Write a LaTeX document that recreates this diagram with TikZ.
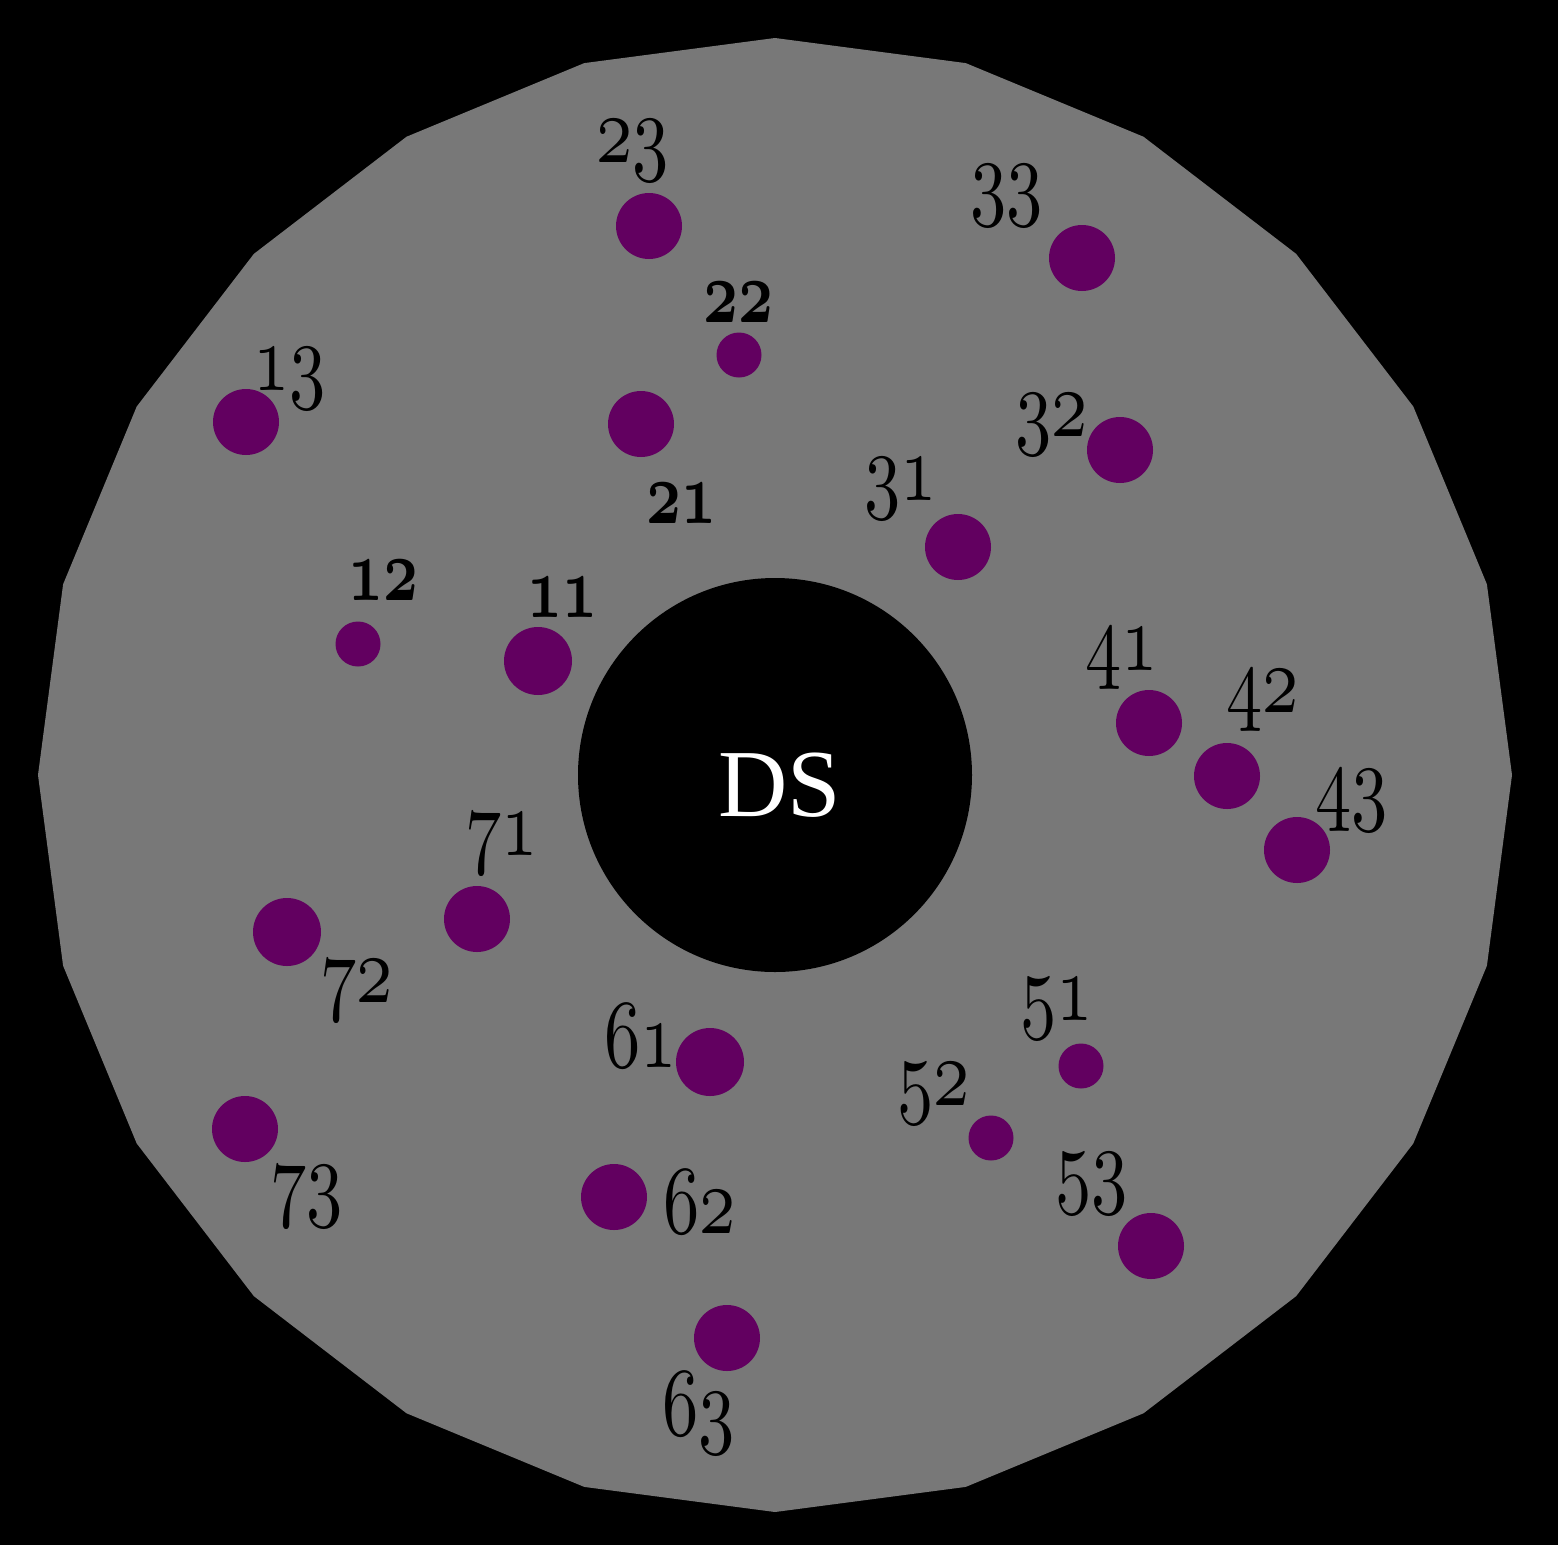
\documentclass[tikz,border=0pt]{standalone}
\usepackage{fontspec}
\newfontfamily\dsfont{Liberation Serif}
\DeclareFontFamily{OML}{osfnum}{\skewchar\font'177}
\DeclareFontShape{OML}{osfnum}{m}{it}{<->cmmi10}{}
\DeclareFontShape{OML}{osfnum}{b}{it}{<->cmmib10}{}
\definecolor{disk}{RGB}{120,120,120}
\definecolor{dot}{RGB}{98,0,96}
\newcommand{\lab}[1]{\scalebox{0.93}[1.25]{\usefont{OML}{osfnum}{m}{it}#1}}
\newcommand{\blab}[1]{\scalebox{0.95}[1.4]{\usefont{OML}{osfnum}{b}{it}#1}}
\tikzset{
  bigdot/.style={circle,fill=dot,minimum size=66pt,inner sep=0pt},
  smalldot/.style={circle,fill=dot,minimum size=45pt,inner sep=0pt},
  biglab/.style={anchor=base west,inner sep=0pt,font=\fontsize{78}{78}\selectfont},
  smalllab/.style={anchor=base west,inner sep=0pt,font=\fontsize{64}{64}\selectfont},
}
\begin{document}
\begin{tikzpicture}[x=1pt,y=-1pt]
\fill[black] (0,0) rectangle (1558,1545);
\useasboundingbox (0,0) rectangle (1558,1545);
\fill[disk] (775,775) +(90:737) \foreach \a in {75,60,...,-255} {-- +(\a:737)} -- cycle;
\node[circle,fill=black,minimum size=394pt,inner sep=0pt] (ds) at (775,775) {};
\node[text=white,font=\dsfont\fontsize{96}{96}\selectfont,inner sep=0pt] (dslab) at (780,785) {DS};
% dots
\node[bigdot] (d23) at (649,226) {};
\node[bigdot] (d33) at (1082,258) {};
\node[smalldot] (d22) at (739,355) {};
\node[bigdot] (d13) at (246,422) {};
\node[bigdot] (d21) at (641,424) {};
\node[bigdot] (d32) at (1120,450) {};
\node[bigdot] (d31) at (958,547) {};
\node[smalldot] (d12) at (358,644) {};
\node[bigdot,minimum size=68pt] (d11) at (538,661) {};
\node[bigdot] (d41) at (1149,723) {};
\node[bigdot] (d42) at (1227,776) {};
\node[bigdot] (d43) at (1297,850) {};
\node[bigdot] (d71) at (477,919) {};
\node[bigdot,minimum size=68pt] (d72) at (287,932) {};
\node[bigdot,minimum size=68pt] (d61) at (710,1062) {};
\node[smalldot] (d51) at (1081,1066) {};
\node[smalldot] (d52) at (991,1138) {};
\node[bigdot] (d73) at (245,1129) {};
\node[bigdot] (d62) at (614,1197) {};
\node[bigdot] (d53) at (1151,1246) {};
\node[bigdot] (d63) at (727,1338) {};
% labels
\node[biglab] (l23) at (596,162) {\lab{23}};
\node[biglab] (l33) at (970,207) {\lab{33}};
\node[smalllab] (l22) at (703,322) {\blab{22}};
\node[biglab] (l13) at (253,390) {\lab{13}};
\node[smalllab] (l21) at (646,523) {\blab{21}};
\node[biglab] (l32) at (1015,436) {\lab{32}};
\node[biglab] (l31) at (864,500) {\lab{31}};
\node[smalllab] (l12) at (348,600) {\blab{12}};
\node[smalllab] (l11) at (527,617) {\blab{11}};
\node[biglab] (l41) at (1085,670) {\lab{41}};
\node[biglab] (l42) at (1226,712) {\lab{42}};
\node[biglab] (l43) at (1315,812) {\lab{43}};
\node[biglab] (l71) at (465,855) {\lab{71}};
\node[biglab] (l72) at (320,1002) {\lab{72}};
\node[biglab] (l61) at (604,1067) {\lab{61}};
\node[biglab] (l51) at (1020,1020) {\lab{51}};
\node[biglab] (l52) at (897,1105) {\lab{52}};
\node[biglab] (l53) at (1055,1195) {\lab{53}};
\node[biglab] (l73) at (270,1208) {\lab{73}};
\node[biglab] (l62) at (663,1233) {\lab{62}};
\node[biglab] (l63) at (662,1435) {\lab{63}};
\end{tikzpicture}
\end{document}
